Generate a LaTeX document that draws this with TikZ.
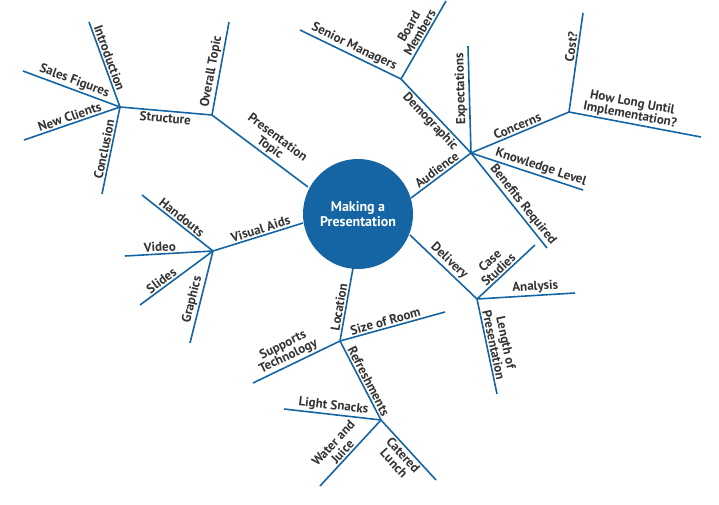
\documentclass[tikz,border=0pt]{standalone}
\usepackage{fontspec}
\setmainfont{PT Sans}
\definecolor{mblue}{HTML}{1565A5}
\definecolor{txt}{HTML}{333333}
\tikzset{
  br/.style={draw=mblue, line width=1.6pt},
  lab/.style={font=\bfseries\fontsize{13}{12.5}\selectfont, text=txt, sloped, inner sep=1.5pt, align=center},
}
\begin{document}
\begin{tikzpicture}[x=1pt,y=-1pt]
\useasboundingbox (0,0) rectangle (719,504);
\node[circle, fill=mblue, minimum size=110pt, inner sep=0pt, text=white, align=center, font=\bfseries\fontsize{14}{15}\selectfont] (C) at (358,214) {Making a\\Presentation};
\coordinate (cPT) at (308,187);
\coordinate (cVA) at (303,223);
\coordinate (cLo) at (353,268);
\coordinate (cDe) at (410,235);
\coordinate (cAu) at (411,198);
\coordinate (hPT) at (212,115);
\coordinate (hSt) at (120,107);
\coordinate (hVA) at (213,251);
\coordinate (hLo) at (340,341);
\coordinate (hRe) at (381,420);
\coordinate (hDe) at (477,299);
\coordinate (hAu) at (471,153);
\coordinate (hDm) at (401,79);
\coordinate (hCo) at (569,112);
\coordinate (eOT) at (229,22);
\coordinate (eIn) at (89,22);
\coordinate (eSF) at (23,71);
\coordinate (eNC) at (24,140);
\coordinate (eCn) at (102,194);
\coordinate (eHa) at (142,195);
\coordinate (eVi) at (125,256);
\coordinate (eSl) at (140,305);
\coordinate (eGr) at (190,343);
\coordinate (eSR) at (445,312);
\coordinate (eST) at (253,383);
\coordinate (eLS) at (284,409);
\coordinate (eWJ) at (320,486);
\coordinate (eCL) at (436,480);
\coordinate (eCS) at (535,245);
\coordinate (eAn) at (575,293);
\coordinate (eLP) at (497,394);
\coordinate (eSM) at (300,30);
\coordinate (eBM) at (446,1);
\coordinate (eEx) at (468,46);
\coordinate (eCo) at (583,13);
\coordinate (eHL) at (701,137);
\coordinate (eKL) at (583,190);
\coordinate (eBR) at (547,248);
\draw[br] (hPT) -- node[lab, above, pos=0.55]{Presentation\\Topic} (cPT);
\draw[br] (hPT) -- node[lab, above, pos=0.45]{Overall Topic} (eOT);
\draw[br] (hSt) -- node[lab, below, pos=0.5]{Structure} (hPT);
\draw[br] (eIn) -- node[lab, above, pos=0.45]{Introduction} (hSt);
\draw[br] (eSF) -- node[lab, above, pos=0.5]{Sales Figures} (hSt);
\draw[br] (eNC) -- node[lab, above, pos=0.5]{New Clients} (hSt);
\draw[br] (eCn) -- node[lab, above, pos=0.5]{Conclusion} (hSt);
\draw[br] (hVA) -- node[lab, above, pos=0.55]{Visual Aids} (cVA);
\draw[br] (eHa) -- node[lab, above, pos=0.5]{Handouts} (hVA);
\draw[br] (eVi) -- node[lab, above, pos=0.4]{Video} (hVA);
\draw[br] (eSl) -- node[lab, above, pos=0.35]{Slides} (hVA);
\draw[br] (eGr) -- node[lab, above, pos=0.45]{Graphics} (hVA);
\draw[br] (hLo) -- node[lab, above, pos=0.45]{Location} (cLo);
\draw[br] (hLo) -- node[lab, above, pos=0.45]{Size of Room} (eSR);
\draw[br] (eST) -- node[lab, above, pos=0.45]{Supports\\Technology} (hLo);
\draw[br] (hLo) -- node[lab, above, pos=0.55]{Refreshments} (hRe);
\draw[br] (eLS) -- node[lab, above, pos=0.5]{Light Snacks} (hRe);
\draw[br] (eWJ) -- node[lab, above, pos=0.45]{Water and\\Juice} (hRe);
\draw[br] (hRe) -- node[lab, below, pos=0.5]{Catered\\Lunch} (eCL);
\draw[br] (cDe) -- node[lab, above, pos=0.5]{Delivery} (hDe);
\draw[br] (hDe) -- node[lab, above, pos=0.45]{Case\\Studies} (eCS);
\draw[br] (hDe) -- node[lab, above, pos=0.6]{Analysis} (eAn);
\draw[br] (hDe) -- node[lab, above, pos=0.5]{Length of\\Presentation} (eLP);
\draw[br] (cAu) -- node[lab, above, pos=0.5]{Audience} (hAu);
\draw[br] (hDm) -- node[lab, below, pos=0.5]{Demographic} (hAu);
\draw[br] (eSM) -- node[lab, above, pos=0.5]{Senior Managers} (hDm);
\draw[br] (hDm) -- node[lab, above, pos=0.55]{Board\\Members} (eBM);
\draw[br] (hAu) -- node[lab, above, pos=0.6, allow upside down]{Expectations} (eEx);
\draw[br] (hAu) -- node[lab, above, pos=0.5]{Concerns} (hCo);
\draw[br] (hCo) -- node[lab, above, pos=0.65]{Cost?} (eCo);
\draw[br] (hCo) -- node[lab, above, pos=0.45]{How Long Until\\Implementation?} (eHL);
\draw[br] (hAu) -- node[lab, above, pos=0.6]{Knowledge Level} (eKL);
\draw[br] (hAu) -- node[lab, above, pos=0.6]{Benefits Required} (eBR);
\end{tikzpicture}
\end{document}
